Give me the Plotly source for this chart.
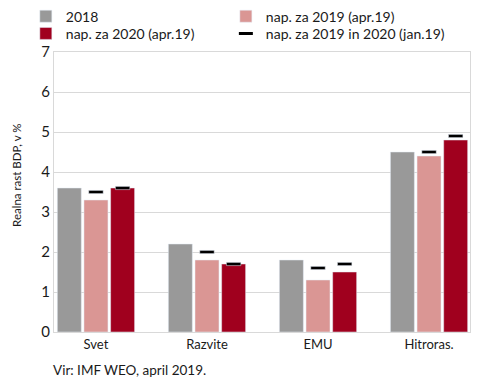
import plotly.graph_objects as go

categories = ["Svet", "Razvite", "EMU", "Hitroras."]
y2018 = [3.6, 2.2, 1.8, 4.5]
apr2019 = [3.3, 1.8, 1.3, 4.4]
apr2020 = [3.6, 1.7, 1.5, 4.8]
jan2019 = [3.5, 2.0, 1.6, 4.5]
jan2020 = [3.6, 1.7, 1.7, 4.9]

names = ["2018", "nap. za 2019 (apr.19)", "nap. za 2020 (apr.19)", "nap. za 2019 in 2020 (jan.19)"]
colors = ["#999999", "#da9694", "#a0001e"]
FONT = "Lato"
mark_h = 0.08

fig = go.Figure()
fig.add_bar(x=categories, y=y2018, name=names[0], marker_color=colors[0], offsetgroup="a",
            legend="legend")
fig.add_bar(x=categories, y=apr2019, name=names[1], marker_color=colors[1], offsetgroup="b",
            legend="legend2")
fig.add_bar(x=categories, y=apr2020, name=names[2], marker_color=colors[2], offsetgroup="c",
            legend="legend3")
fig.add_bar(x=categories, y=[mark_h] * len(jan2019), base=[v - mark_h / 2 for v in jan2019],
            marker_color="black", offsetgroup="b", width=0.13, showlegend=False)
fig.add_bar(x=categories, y=[mark_h] * len(jan2020), base=[v - mark_h / 2 for v in jan2020],
            marker_color="black", offsetgroup="c", width=0.13, showlegend=False)
fig.add_scatter(x=[None], y=[None], mode="markers", name=names[3], legend="legend4",
                marker=dict(symbol="line-ew", size=10, color="black",
                            line=dict(width=3, color="black")))

leg_common = dict(orientation="v", xref="container", yref="container",
                  xanchor="left", yanchor="middle", font=dict(family=FONT, size=14),
                  itemwidth=30, tracegroupgap=0, bgcolor="rgba(0,0,0,0)")
col1, col2 = 0.037, 0.452
row1, row2 = 0.977, 0.931

fig.update_layout(
    width=482, height=374,
    margin=dict(l=46, r=20, t=44, b=50, autoexpand=False),
    paper_bgcolor="white", plot_bgcolor="white",
    barmode="group", bargap=0.28, bargroupgap=0.1,
    font=dict(family=FONT, size=14, color="#1a1a1a"),
    showlegend=True,
    legend=dict(x=col1, y=row1, **leg_common),
    legend2=dict(x=col2, y=row1, **leg_common),
    legend3=dict(x=col1, y=row2, **leg_common),
    legend4=dict(x=col2, y=row2, **leg_common),
    xaxis=dict(type="category", range=[-0.378, 3.369], showline=True, linecolor="#d9d9d9",
               mirror=True, ticks="", tickfont=dict(size=13), showgrid=False),
    yaxis=dict(range=[0, 7], dtick=1, showline=True, linecolor="#d9d9d9", mirror=True,
               gridcolor="#d9d9d9", gridwidth=1, ticks="", tickfont=dict(size=15),
               zeroline=False),
    annotations=[
        dict(text="Realna rast BDP, v %", textangle=-90, xref="paper", yref="paper",
             x=-0.089, y=0.561, xanchor="center", yanchor="middle", showarrow=False,
             font=dict(size=11.5)),
        dict(text="Vir: IMF WEO, april 2019.", xref="paper", yref="paper",
             x=-0.007, y=-0.136, xanchor="left", yanchor="middle", showarrow=False,
             font=dict(size=13.5)),
    ],
)

fig.write_html("out.html")
